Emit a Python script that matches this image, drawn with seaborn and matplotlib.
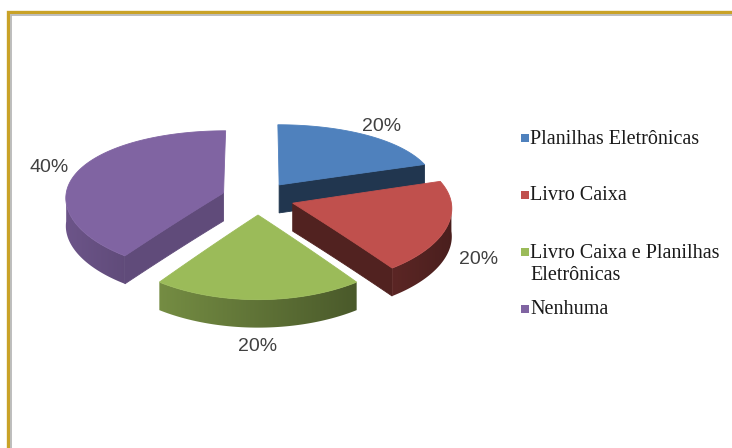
import numpy as np
import matplotlib
matplotlib.use("Agg")
import matplotlib.pyplot as plt
from matplotlib.patches import Rectangle, Polygon
import seaborn as sns

# ---- data -------------------------------------------------------------
categories = ["Planilhas Eletrônicas", "Livro Caixa",
              "Livro Caixa e Planilhas\nEletrônicas", "Nenhuma"]
shares = [20, 20, 20, 40]
colors = ["#4F81BD", "#C0504D", "#9BBB59", "#8064A2"]

# ---- style / geometry -------------------------------------------------
sns.set_theme(style="white")
palette = sns.color_palette(colors)

W, H = 732, 448
CX, CY = 258, 198          # centre of the pie on the canvas (px)
RX, RY = 158, 72           # semi-axes of the tilted disc (px)
KX, KY = 0.06, 0.12        # mild perspective: back narrower, front wider
DEPTH = 28                 # thickness of the slab (px)
EXPLODE = 0.23             # explosion distance, fraction of radius
LABEL_R = 1.2              # label distance, fraction of radius

fig = plt.figure(figsize=(W / 100, H / 100), dpi=100)
ax = fig.add_axes([0, 0, 1, 1])
ax.set_xlim(0, W)
ax.set_ylim(H, 0)
ax.axis("off")


def project(u, v):
    """ground-plane point (u to the right, v away from viewer) -> canvas px"""
    u = np.asarray(u, float)
    v = np.asarray(v, float)
    return CX + RX * u * (1 - KX * v), CY - RY * v * (1 - KY * v)


def shade(rgb, f):
    return tuple(min(1.0, max(0.0, c * f)) for c in rgb)


def wall_factor(theta):
    """brightness of the curved wall, lit from the left"""
    return 0.38 + 0.47 * (1 - np.sin(theta)) / 2


def fill(xs, ys, col, z):
    ax.fill(xs, ys, facecolor=col, edgecolor=col, linewidth=0.6, zorder=z)


total = float(sum(shares))
bounds = np.concatenate([[0], np.cumsum(shares)]) / total * 360.0

slices = []
for i, (lo, hi) in enumerate(zip(bounds[:-1], bounds[1:])):
    mid = np.radians((lo + hi) / 2)
    ou, ov = EXPLODE * np.sin(mid), EXPLODE * np.cos(mid)
    slices.append((i, lo, hi, ou, ov))

# paint from back to front
order = sorted(slices, key=lambda s: -s[4])
for rank, (i, lo, hi, ou, ov) in enumerate(order):
    base = np.array(palette[i])
    z = 10 + rank * 10
    t1, t2 = np.radians(lo), np.radians(hi)
    arc = np.linspace(t1, t2, 200)
    rr = np.linspace(0, 1, 20)

    # radial faces
    for t, factor, visible in ((t2, 0.42, np.sin(t2) > 1e-6),
                               (t1, 0.75, np.sin(t1) < -1e-6)):
        if not visible:
            continue
        x, y = project(ou + rr * np.sin(t), ov + rr * np.cos(t))
        fill(np.r_[x, x[::-1]], np.r_[y, y[::-1] + DEPTH], shade(base, factor), z)

    # curved outer wall: gradient image clipped to the wall outline
    front = arc[np.cos(arc) < 0]
    if front.size > 1:
        x, y = project(ou + np.sin(front), ov + np.cos(front))
        outline = np.c_[np.r_[x, x[::-1]], np.r_[y, y[::-1] + DEPTH]]
        poly = Polygon(outline, closed=True, facecolor="none", edgecolor="none")
        ax.add_patch(poly)
        x0, x1 = x.min() - 1, x.max() + 1
        cols = np.linspace(x0, x1, 300)
        # x decreases with angle on the front half
        th = np.interp(cols, x[::-1], front[::-1])
        img = np.clip(base[None, :] * wall_factor(th)[:, None], 0, 1)[None, :, :]
        y0, y1 = y.min() - 1, y.max() + DEPTH + 1
        im = ax.imshow(img, extent=[x0, x1, y1, y0], aspect="auto",
                       interpolation="bilinear", zorder=z + 1)
        im.set_clip_path(poly)
        ax.set_xlim(0, W)
        ax.set_ylim(H, 0)

    # top face
    ue = np.r_[ou + rr * np.sin(t1), ou + np.sin(arc), ou + rr[::-1] * np.sin(t2)]
    ve = np.r_[ov + rr * np.cos(t1), ov + np.cos(arc), ov + rr[::-1] * np.cos(t2)]
    x, y = project(ue, ve)
    fill(x, y, base, z + 2)

    # percentage label
    mid = np.radians((lo + hi) / 2)
    lx, ly = project(ou + LABEL_R * np.sin(mid), ov + LABEL_R * np.cos(mid))
    if np.cos(mid) < 0:
        ly = ly + DEPTH
    ax.text(float(lx), float(ly), f"{shares[i] / total:.0%}", ha="center", va="center",
            fontsize=14, family="Liberation Sans", color="#404040", zorder=100)

# ---- legend ----------------------------------------------------------
LEG_X, LEG_Y, LEG_STEP, LINE_H = 530, 138, 57, 23
for i, name in enumerate(categories):
    yc = LEG_Y + i * LEG_STEP
    ax.add_patch(Rectangle((521, yc - 4), 8, 8, facecolor=palette[i],
                           edgecolor="none", zorder=100))
    for k, line in enumerate(name.split("\n")):
        ax.text(LEG_X, yc + 5.5 + k * LINE_H, line, ha="left", va="baseline",
                fontsize=14.5, family="Liberation Serif", color="#1a1a1a",
                zorder=100)

# ---- frame -----------------------------------------------------------
ax.plot([8, 8, W + 5], [H + 5, 12, 12], color="#C9A227", lw=2.4,
        solid_joinstyle="miter", clip_on=False, zorder=200)
ax.plot([10.8, 10.8, W + 5], [H + 5, 14.6, 14.6], color="#B8B8B8", lw=1.3,
        solid_joinstyle="miter", clip_on=False, zorder=200)

fig.savefig("out.png", dpi=100, facecolor="white")
